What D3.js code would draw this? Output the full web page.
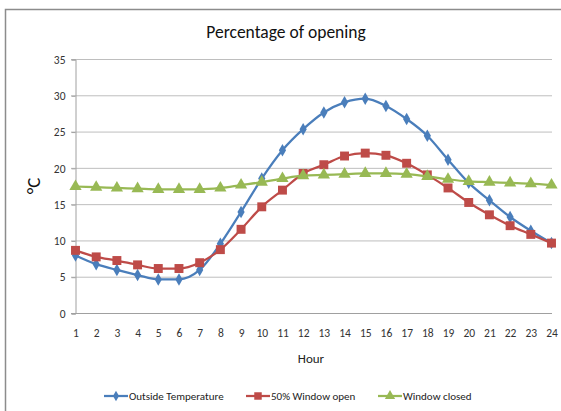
<!DOCTYPE html>
<html><head><meta charset="utf-8">
<script src="https://cdn.jsdelivr.net/npm/d3@7"></script>
<style>body{margin:0;background:#fff;} svg{display:block;font-family:Carlito,Lato,"Open Sans",sans-serif;}</style>
</head><body>
<svg id="c" width="561" height="411"></svg>
<script>
const hours = d3.range(1, 25);
const outsideTemp = [8.0,6.8,6.0,5.3,4.7,4.7,6.0,9.6,14.0,18.6,22.5,25.4,27.7,29.1,29.6,28.6,26.8,24.5,21.2,18.0,15.6,13.3,11.4,9.7];
const windowOpen50 = [8.7,7.8,7.3,6.7,6.2,6.2,7.0,8.8,11.6,14.7,17.0,19.3,20.5,21.7,22.1,21.8,20.7,19.1,17.3,15.3,13.6,12.1,10.9,9.7];
const windowClosed = [17.5,17.4,17.3,17.2,17.1,17.1,17.1,17.3,17.7,18.1,18.6,19.0,19.1,19.2,19.3,19.3,19.2,18.9,18.5,18.2,18.1,18.0,17.9,17.7];
const yTicks = [0,5,10,15,20,25,30,35];
const seriesNames = ["Outside Temperature","50% Window open","Window closed"];
const colors = ["#4a7ebb","#be4b48","#98b954"];
const title = "Percentage of opening";
const xTitle = "Hour";
const yTitle = "°C";

const svg = d3.select("#c");
// frame
svg.append("rect").attr("x",5.5).attr("y",9.5).attr("width",600).attr("height",500)
  .attr("fill","none").attr("stroke","#8c8c8c").attr("stroke-width",1.5);

const x = d3.scaleLinear().domain([1,24]).range([75.5,551.5]);
const y = d3.scaleLinear().domain([0,35]).range([313.5,59.5]);

// gridlines
svg.append("g").selectAll("line").data(yTicks.filter(d=>d>0)).join("line")
  .attr("x1",71).attr("x2",552).attr("y1",d=>y(d)).attr("y2",d=>y(d))
  .attr("stroke","#bebebe").attr("stroke-width",1);

// axes
const yAxis = d3.axisLeft(y).tickValues(yTicks).tickSize(4).tickPadding(6);
const gy = svg.append("g").attr("transform","translate(75.5,0)").call(yAxis);
gy.select(".domain").attr("stroke","#a0a0a0");
gy.selectAll(".tick line").attr("stroke","#a0a0a0");
gy.selectAll("text").attr("font-size",11.5).attr("fill","#333").attr("font-family","Carlito,Lato,sans-serif");

const xAxis = d3.axisBottom(x).tickValues(hours).tickSize(0).tickPadding(15);
const gx = svg.append("g").attr("transform","translate(0,313.5)").call(xAxis);
gx.select(".domain").attr("stroke","#a0a0a0").attr("d","M71,0H552");
gx.selectAll("text").attr("font-size",11.5).attr("fill","#333").attr("font-family","Carlito,Lato,sans-serif");

// titles
svg.append("text").attr("x",286).attr("y",38).attr("text-anchor","middle")
  .attr("font-size",17.5).attr("fill","#111").text(title);
svg.append("text").attr("x",311).attr("y",363).attr("text-anchor","middle")
  .attr("font-size",13).attr("fill","#222").text(xTitle);
svg.append("text").attr("transform","translate(40,186) rotate(-90)").attr("text-anchor","middle")
  .attr("font-size",19).attr("fill","#111").text(yTitle);

const data = [outsideTemp, windowOpen50, windowClosed];
const line = d3.line().x((d,i)=>x(hours[i])).y(d=>y(d)).curve(d3.curveMonotoneX);
const symbols = [d3.symbolDiamond, d3.symbolSquare, d3.symbolTriangle];
const sizes = [45, 80, 65];

data.forEach((vals,k)=>{
  const g = svg.append("g");
  g.append("path").attr("d",line(vals)).attr("fill","none").attr("stroke",colors[k]).attr("stroke-width",2.25);
  g.selectAll("path.m").data(vals).join("path").attr("class","m")
    .attr("transform",(d,i)=>`translate(${x(hours[i])},${y(d)})`)
    .attr("d",d3.symbol().type(symbols[k]).size(sizes[k]))
    .attr("fill",colors[k]);
});

// legend
const legX = [104, 246, 378];
seriesNames.forEach((n,k)=>{
  const g = svg.append("g").attr("transform",`translate(${legX[k]},396)`);
  g.append("line").attr("x1",0).attr("x2",24).attr("stroke",colors[k]).attr("stroke-width",2.25);
  g.append("path").attr("transform","translate(12,0)").attr("d",d3.symbol().type(symbols[k]).size(sizes[k]*0.7)).attr("fill",colors[k]);
  g.append("text").attr("x",25).attr("y",4).attr("font-size",11).attr("fill","#222").text(n);
});
</script>
</body></html>
